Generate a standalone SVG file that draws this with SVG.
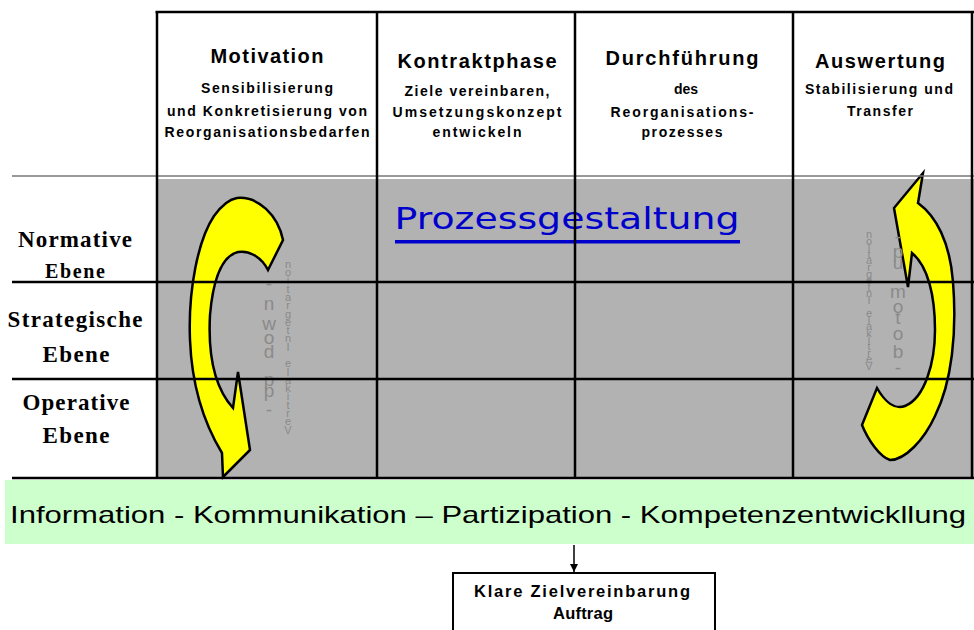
<svg xmlns="http://www.w3.org/2000/svg" width="974" height="630" viewBox="0 0 974 630">
<defs>
<style>
.hd{font-family:"Liberation Sans",Arial,sans-serif;font-weight:bold;font-size:20px;fill:#000;text-anchor:middle}
.sb{font-family:"Liberation Sans",Arial,sans-serif;font-weight:bold;font-size:14px;fill:#000;text-anchor:middle}
.rl{font-family:"Liberation Serif","Times New Roman",serif;font-weight:bold;font-size:23px;fill:#000;text-anchor:middle}
.gl{font-family:"Liberation Sans",Arial,sans-serif;font-size:19px;fill:#8a8a8a;text-anchor:middle}
.gs{font-family:"Liberation Sans",Arial,sans-serif;font-size:11px;fill:#8a8a8a;text-anchor:middle}
.arr{fill:#ffff00;stroke:#000;stroke-width:2.5;stroke-linejoin:miter}
.grid{stroke:#000;stroke-width:2.5;fill:none}
</style>
<marker id="ah" viewBox="0 0 10 10" refX="10" refY="5" markerWidth="8" markerHeight="9" markerUnits="userSpaceOnUse" orient="auto">
<path d="M0,0 L10,5 L0,10 Z" fill="#000"/>
</marker>
</defs>
<rect width="974" height="630" fill="#fff"/>

<g id="matrix-bg">
<rect x="157" y="179" width="817" height="299" fill="#b2b2b2"/>
</g>

<g id="header-motivation">
<text class="hd" x="267" y="63" textLength="113" lengthAdjust="spacing">Motivation</text>
<text class="sb" x="267" y="93" textLength="132" lengthAdjust="spacing">Sensibilisierung</text>
<text class="sb" x="267" y="116" textLength="200" lengthAdjust="spacing">und Konkretisierung von</text>
<text class="sb" x="267" y="137" textLength="205" lengthAdjust="spacing">Reorganisationsbedarfen</text>
</g>
<g id="header-kontraktphase">
<text class="hd" x="477" y="68" textLength="159" lengthAdjust="spacing">Kontraktphase</text>
<text class="sb" x="477" y="96" textLength="145" lengthAdjust="spacing">Ziele vereinbaren,</text>
<text class="sb" x="477" y="117" textLength="169" lengthAdjust="spacing">Umsetzungskonzept</text>
<text class="sb" x="477" y="137" textLength="89" lengthAdjust="spacing">entwickeln</text>
</g>
<g id="header-durchfuehrung">
<text class="hd" x="682" y="65" textLength="153" lengthAdjust="spacing">Durchführung</text>
<text class="sb" x="686" y="94">des</text>
<text class="sb" x="682" y="117" textLength="143" lengthAdjust="spacing">Reorganisations-</text>
<text class="sb" x="682" y="137" textLength="81" lengthAdjust="spacing">prozesses</text>
</g>
<g id="header-auswertung">
<text class="hd" x="880" y="68" textLength="130" lengthAdjust="spacing">Auswertung</text>
<text class="sb" x="879" y="94" textLength="148" lengthAdjust="spacing">Stabilisierung und</text>
<text class="sb" x="880" y="116" textLength="66" lengthAdjust="spacing">Transfer</text>
</g>

<g id="row-normative">
<text class="rl" x="75" y="247" textLength="114" lengthAdjust="spacing">Normative</text>
<text class="rl" x="75" y="278" style="font-size:20px" textLength="60" lengthAdjust="spacing">Ebene</text>
</g>
<g id="row-strategische">
<text class="rl" x="75" y="327" textLength="135" lengthAdjust="spacing">Strategische</text>
<text class="rl" x="76" y="362" textLength="67" lengthAdjust="spacing">Ebene</text>
</g>
<g id="row-operative">
<text class="rl" x="76" y="410" textLength="107" lengthAdjust="spacing">Operative</text>
<text class="rl" x="76" y="443" textLength="67" lengthAdjust="spacing">Ebene</text>
</g>

<g id="title-prozessgestaltung">
<text x="567" y="229" font-family="'DejaVu Sans',Verdana,sans-serif" font-size="31" fill="#0000cc" text-anchor="middle" textLength="345" lengthAdjust="spacingAndGlyphs">Prozessgestaltung</text>
<rect x="395" y="240" width="345" height="3.5" fill="#0000cc"/>
</g>

<g id="arrow-top-down">
<path class="arr" d="M237,198 C258,196 278,215 283,240 L268,270 C262,258 250,250 238,252 C222,256 213,280 210,315 C208,352 214,387 233,408 L238,372 L250,450 L223,477 L222,453 C205,425 192,390 190,340 C188,290 198,240 214,216 C222,205 230,199 237,198 Z"/>
</g>
<g id="arrow-bottom-up">
<path class="arr" d="M923,173 L918,203 C936,216 950,242 953,282 C957,332 952,382 935,416 C924,440 905,460 890,460 C880,457 868,440 862,425 L877,388 C885,402 895,410 905,406 C925,398 935,362 935,330 C935,296 928,266 912,253 L908,287 L894,208 Z"/>
</g>

<g id="label-top-down">
<text class="gl"><tspan x="269" y="290">-</tspan><tspan x="269" y="310">n</tspan><tspan x="269" y="330">w</tspan><tspan x="269" y="344">o</tspan><tspan x="269" y="358">d</tspan><tspan x="269" y="386">p</tspan><tspan x="269" y="397">p</tspan><tspan x="269" y="416">-</tspan></text>
<text class="gs"><tspan x="288" y="268">n</tspan><tspan x="288" y="276">o</tspan><tspan x="288" y="284">i</tspan><tspan x="288" y="293">t</tspan><tspan x="288" y="301">a</tspan><tspan x="288" y="309">r</tspan><tspan x="288" y="318">g</tspan><tspan x="288" y="326">e</tspan><tspan x="288" y="334">t</tspan><tspan x="288" y="342">n</tspan><tspan x="288" y="351">I</tspan><tspan x="288" y="367">e</tspan><tspan x="288" y="376">l</tspan><tspan x="288" y="384">a</tspan><tspan x="288" y="392">k</tspan><tspan x="288" y="400">i</tspan><tspan x="288" y="409">t</tspan><tspan x="288" y="417">r</tspan><tspan x="288" y="425">e</tspan><tspan x="288" y="434">V</tspan></text>
</g>
<g id="label-bottom-up">
<text class="gl"><tspan x="898" y="243">-</tspan><tspan x="898" y="258">p</tspan><tspan x="898" y="269">u</tspan><tspan x="898" y="298">m</tspan><tspan x="898" y="313">o</tspan><tspan x="898" y="324">t</tspan><tspan x="898" y="340">o</tspan><tspan x="898" y="358">b</tspan><tspan x="898" y="374">-</tspan></text>
<text class="gs"><tspan x="869" y="238">n</tspan><tspan x="869" y="245">o</tspan><tspan x="869" y="251">i</tspan><tspan x="869" y="258">t</tspan><tspan x="869" y="264">a</tspan><tspan x="869" y="271">r</tspan><tspan x="869" y="278">g</tspan><tspan x="869" y="284">e</tspan><tspan x="869" y="291">t</tspan><tspan x="869" y="297">n</tspan><tspan x="869" y="304">I</tspan><tspan x="869" y="317">e</tspan><tspan x="869" y="324">l</tspan><tspan x="869" y="330">a</tspan><tspan x="869" y="337">k</tspan><tspan x="869" y="343">i</tspan><tspan x="869" y="350">t</tspan><tspan x="869" y="357">r</tspan><tspan x="869" y="363">e</tspan><tspan x="869" y="370">V</tspan></text>
</g>

<g id="grid">
<line x1="12" y1="176" x2="974" y2="176" stroke="#777" stroke-width="1.5"/>
<line class="grid" x1="155.5" y1="12" x2="974" y2="12" stroke-width="3"/>
<line class="grid" x1="157" y1="12" x2="157" y2="479" stroke-width="3"/>
<line class="grid" x1="377" y1="12" x2="377" y2="479" stroke-width="3"/>
<line class="grid" x1="575" y1="12" x2="575" y2="479" stroke-width="3"/>
<line class="grid" x1="793" y1="12" x2="793" y2="479" stroke-width="3"/>
<line class="grid" x1="972" y1="12" x2="972" y2="479" stroke-width="3"/>
<line class="grid" x1="12" y1="282" x2="974" y2="282"/>
<line class="grid" x1="12" y1="379" x2="974" y2="379"/>
<line class="grid" x1="12" y1="478" x2="974" y2="478"/>
</g>

<g id="band">
<rect x="5" y="480" width="969" height="64" fill="#ccffcc"/>
<text x="10" y="523" font-family="'Liberation Sans',Arial,sans-serif" font-size="24" fill="#000" textLength="956" lengthAdjust="spacingAndGlyphs">Information - Kommunikation – Partizipation - Kompetenzentwickllung</text>
</g>

<g id="connectors">
<line x1="574" y1="545" x2="574" y2="572" stroke="#000" stroke-width="1.5" marker-end="url(#ah)"/>
</g>

<g id="box-zielvereinbarung">
<rect x="453" y="573" width="262" height="62" fill="#fff" stroke="#000" stroke-width="2"/>
<text x="582" y="597" font-family="'Liberation Sans',Arial,sans-serif" font-weight="bold" font-size="16.5" fill="#000" text-anchor="middle" textLength="216" lengthAdjust="spacing">Klare Zielvereinbarung</text>
<text x="583" y="619" font-family="'Liberation Sans',Arial,sans-serif" font-weight="bold" font-size="16.5" fill="#000" text-anchor="middle" textLength="60" lengthAdjust="spacing">Auftrag</text>
</g>
</svg>
